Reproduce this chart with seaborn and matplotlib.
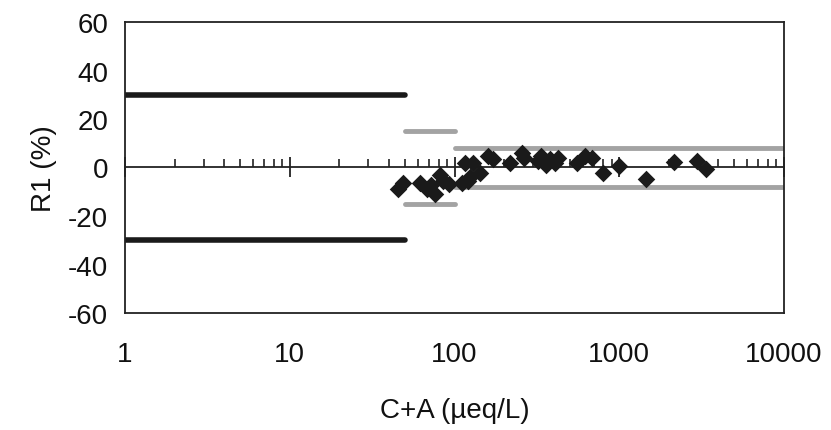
import numpy as np
import pandas as pd
import matplotlib
matplotlib.use("Agg")
import matplotlib.pyplot as plt
import seaborn as sns

# ---- data ----
ca = [45.6, 48.9, 61.8, 67.8, 72.0, 76.2, 81.7, 85.5, 92.5,
      110.6, 115.8, 121.3, 125.0, 130.0, 142.8, 160.4, 171.0,
      217.0, 256.0, 264.0, 321.0, 335.0, 359.0, 380.0, 407.0, 425.0,
      552.0, 620.0, 681.0, 800.0, 996.0, 1452.0, 2148.0, 2950.0, 3365.0]
r1 = [-9.0, -6.3, -6.3, -9.0, -7.4, -11.1, -2.9, -5.6, -6.6,
      -6.3, 1.9, -5.6, -4.1, 1.9, -2.2, 4.6, 3.3,
      1.9, 6.0, 4.1, 2.6, 4.9, 1.2, 3.3, 2.0, 4.1,
      1.9, 4.6, 4.0, -2.2, 0.6, -4.6, 2.2, 2.6, -0.5]

# acceptance limits (segments)
lim_black_x = [1, 50]
lim_black_y = [30, -30]
lim_mid_x = [50, 100]
lim_mid_y = [15, -15]
lim_high_x = [100, 10000]
lim_high_y = [8, -8]

xticks = [1, 10, 100, 1000, 10000]
xtick_labels = ["1", "10", "100", "1000", "10000"]
yticks = [-60, -40, -20, 0, 20, 40, 60]

sns.set_style("white")
plt.rcParams['font.family'] = ['Liberation Sans', 'DejaVu Sans']
plt.rcParams['axes.unicode_minus'] = False

fig = plt.figure(figsize=(8.31, 4.31), dpi=100)
ax = fig.add_axes([125/831, 1-314/431, (784-125)/831, (314-23)/431])

black = "#1a1a1a"
gray = "#a3a3a3"
for yv in lim_black_y:
    sns.lineplot(x=lim_black_x, y=[yv, yv], ax=ax, color=black, lw=4, solid_capstyle="round")
for yv in lim_mid_y:
    sns.lineplot(x=lim_mid_x, y=[yv, yv], ax=ax, color=gray, lw=3.5, solid_capstyle="round")
for yv in lim_high_y:
    sns.lineplot(x=lim_high_x, y=[yv, yv], ax=ax, color=gray, lw=3.5, solid_capstyle="round")

df = pd.DataFrame({"ca": ca, "r1": r1})
sns.scatterplot(data=df, x="ca", y="r1", ax=ax, marker="D", s=80,
                color=black, edgecolor=black, linewidth=0, zorder=5)

ax.set_xscale("log")
ax.set_xlim(1, 10000)
ax.set_ylim(-60, 60)
ax.set_xticks(xticks)
ax.set_xticklabels(xtick_labels)
ax.xaxis.set_minor_locator(matplotlib.ticker.NullLocator())
ax.set_yticks(yticks)
ax.tick_params(axis="x", length=0, pad=20, labelsize=20, colors="#111111")
ax.tick_params(axis="y", direction="in", length=6, width=1.2, pad=12, labelsize=20,
               colors="#111111")
for s in ax.spines.values():
    s.set_visible(True)
    s.set_color("#222222")
    s.set_linewidth(1.3)

# axis at y=0 with ticks
sec = ax.secondary_xaxis(0.5)
sec.set_xticks(xticks)
sec.xaxis.set_major_formatter(matplotlib.ticker.NullFormatter())
sec.xaxis.set_minor_locator(matplotlib.ticker.LogLocator(base=10, subs=np.arange(2, 10)))
sec.xaxis.set_minor_formatter(matplotlib.ticker.NullFormatter())
sec.tick_params(axis="x", which="major", direction="inout", length=14, width=1.3,
                labelbottom=False, labeltop=False, colors="#222222")
sec.tick_params(axis="x", which="minor", direction="out", length=6, width=1.2,
                labelbottom=False, labeltop=False, colors="#222222")
for s in sec.spines.values():
    s.set_linewidth(1.3)
    s.set_color("#222222")

ax.set_xlabel("C+A (µeq/L)", fontsize=20, labelpad=22, color="#111111")
ax.set_ylabel("R1 (%)", fontsize=20, labelpad=8, color="#111111")

fig.savefig("out.png", dpi=100)
